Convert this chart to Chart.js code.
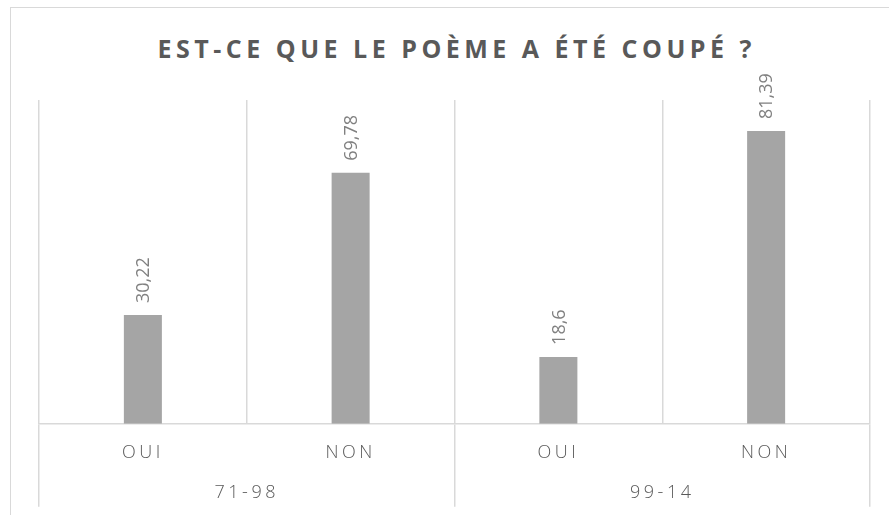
<!DOCTYPE html>
<html><head><meta charset="utf-8">
<script src="https://cdn.jsdelivr.net/npm/chart.js@4"></script>
<style>
html,body{margin:0;padding:0;background:#fff;width:889px;height:515px;overflow:hidden;}
#wrap{position:relative;width:889px;height:515px;overflow:hidden;}
#frame{position:absolute;left:10px;top:7px;width:900px;height:600px;border-top:1.5px solid #d9d9d9;border-left:1.5px solid #d9d9d9;}
#title{position:absolute;left:10px;top:31px;width:889px;text-align:center;font-family:'Open Sans';font-weight:bold;font-size:25px;letter-spacing:4.5px;padding-left:4.5px;box-sizing:border-box;color:#595959;white-space:nowrap;}
canvas{position:absolute;left:0;top:0;}
</style></head><body>
<div id="wrap"><div id="frame"></div><div id="title">EST-CE QUE LE POÈME A ÉTÉ COUPÉ ?</div><canvas id="c" width="889" height="515"></canvas></div>
<script>
const answers = ['OUI', 'NON', 'OUI', 'NON'];
const groups = ['71-98', '99-14'];
const values = [30.22, 69.78, 18.6, 81.39];
const valueLabels = values.map(v => String(v).replace('.', ','));

const spacingPlugin = {
  id: 'spacing',
  beforeDraw(chart) { chart.ctx.letterSpacing = '3.5px'; },
  afterDraw(chart) { chart.ctx.letterSpacing = '0px'; }
};
const labelPlugin = {
  id: 'vlabels',
  afterDatasetsDraw(chart) {
    const ctx = chart.ctx;
    const meta = chart.getDatasetMeta(0);
    meta.data.forEach((bar, i) => {
      ctx.save();
      ctx.letterSpacing = '0px';
      ctx.font = '18px "Open Sans"';
      ctx.fillStyle = '#808080';
      ctx.translate(bar.x + 1, bar.y - 12);
      ctx.rotate(-Math.PI / 2);
      ctx.textAlign = 'left';
      ctx.textBaseline = 'middle';
      ctx.fillText(valueLabels[i], 0, 0);
      ctx.restore();
    });
  }
};
const tickFont = {family: 'Open Sans', size: 18, weight: 300};
new Chart(document.getElementById('c'), {
  type: 'bar',
  data: {labels: answers, datasets: [{data: values, backgroundColor: '#a5a5a5', categoryPercentage: 1, barPercentage: 0.183, xAxisID: 'x'}]},
  options: {
    responsive: false, animation: false, events: [],
    layout: {padding: {left: 39, right: 19, top: 100, bottom: 15}},
    plugins: {legend: {display: false}, tooltip: {enabled: false}, title: {display: false}},
    scales: {
      x: {
        position: 'bottom', weight: 0,
        grid: {offset: true, color: '#d9d9d9', lineWidth: 1.5, tickLength: 83,
               tickColor: (c) => (c.index % 2 === 1 ? 'rgba(0,0,0,0)' : '#d9d9d9')},
        border: {color: '#d9d9d9', width: 1.5},
        ticks: {padding: -65, color: '#595959', font: tickFont, maxRotation: 0, autoSkip: false},
        afterFit: (s) => { s.height = 38.6; }
      },
      x2: {
        type: 'category', labels: groups, position: 'bottom', weight: 1, offset: true,
        grid: {display: false, drawTicks: false}, border: {display: false},
        ticks: {padding: 20, color: '#595959', font: tickFont, maxRotation: 0, autoSkip: false},
        afterFit: (s) => { s.height = 37.6; }
      },
      y: {display: false, min: 0, max: 90}
    }
  },
  plugins: [spacingPlugin, labelPlugin]
});
</script>
</body></html>
